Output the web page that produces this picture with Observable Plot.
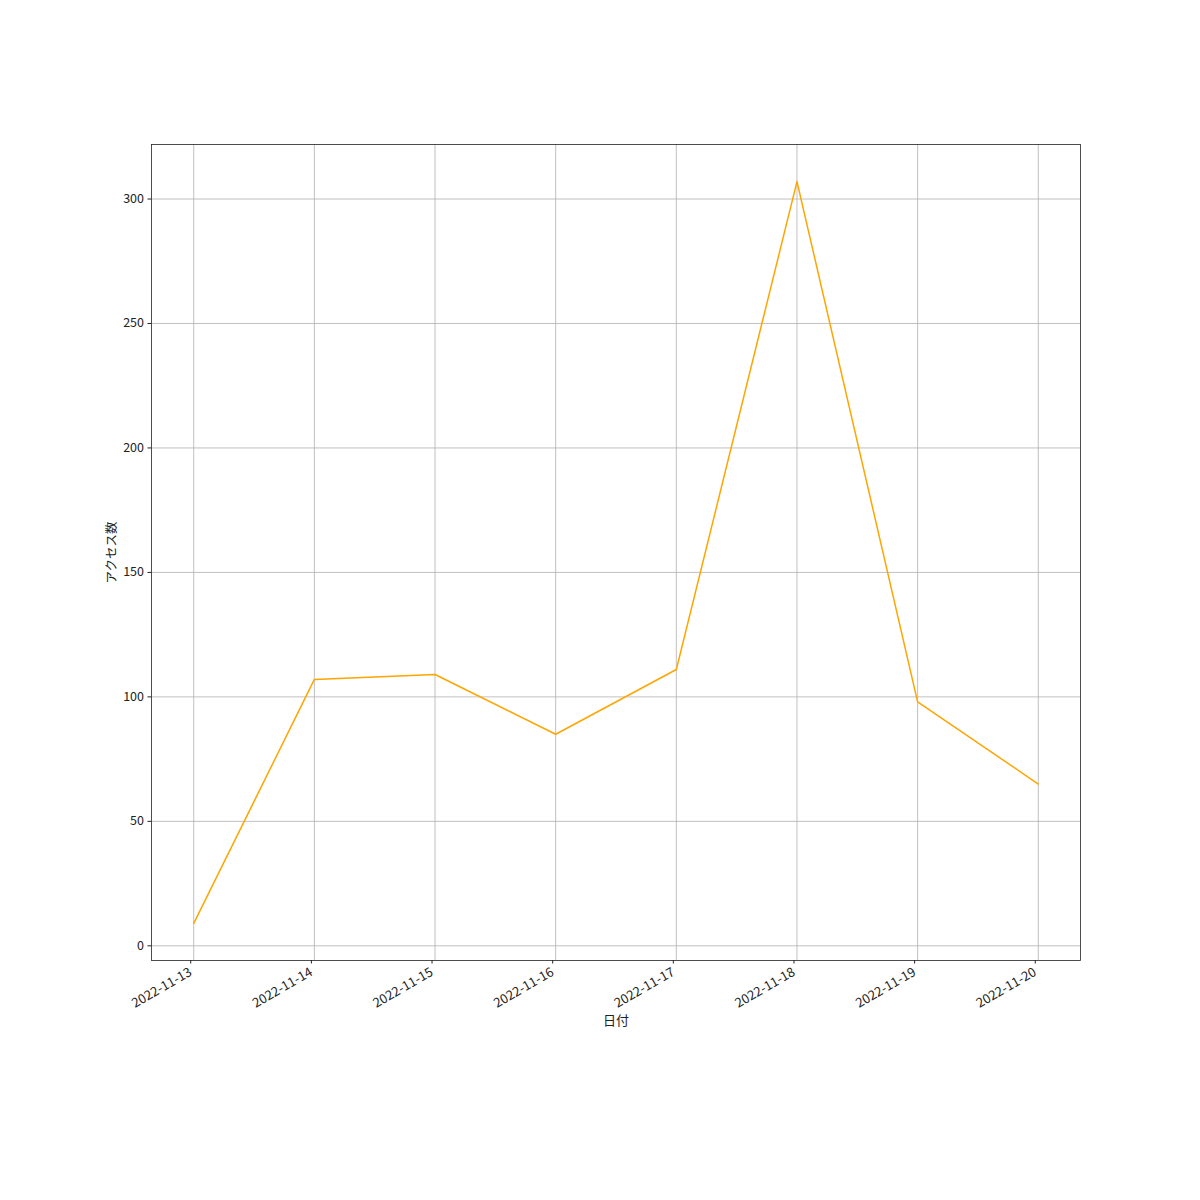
<!DOCTYPE html>
<html>
<head>
<meta charset="utf-8">
<script src="https://cdn.jsdelivr.net/npm/d3@7"></script>
<script src="https://cdn.jsdelivr.net/npm/@observablehq/plot@0.6"></script>
<style>
  html, body { margin: 0; padding: 0; background: #fff; }
  #chart svg { display: block; }
</style>
</head>
<body>
<div id="chart"></div>
<script>
const dates = ["2022-11-13", "2022-11-14", "2022-11-15", "2022-11-16", "2022-11-17", "2022-11-18", "2022-11-19", "2022-11-20"];
const access = [9, 107, 109, 85, 111, 307, 98, 65];
const yTicks = [0, 50, 100, 150, 200, 250, 300];
const xLabel = "日付";
const yLabel = "アクセス数";

const data = dates.map((d, i) => ({date: new Date(d + "T00:00:00Z"), value: access[i]}));
const tickDates = dates.map(d => new Date(d + "T00:00:00Z"));

const t0 = tickDates[0].getTime(), t1 = tickDates[tickDates.length - 1].getTime();
const xPad = (t1 - t0) * 0.05;
const vMin = d3.min(access), vMax = d3.max(access);
const yPad = (vMax - vMin) * 0.05;

const chart = Plot.plot({
  width: 1200,
  height: 1200,
  marginLeft: 151,
  marginRight: 120,
  marginTop: 144,
  marginBottom: 240,
  style: {fontFamily: "'Noto Sans CJK JP', 'Noto Sans', sans-serif", fontSize: "12px", color: "#222", background: "#fff"},
  x: {type: "utc", domain: [new Date(t0 - xPad), new Date(t1 + xPad)]},
  y: {domain: [vMin - yPad, vMax + yPad]},
  marks: [
    Plot.gridX(tickDates, {stroke: "#b0b0b0", strokeOpacity: 1, strokeWidth: 0.8}),
    Plot.gridY(yTicks, {stroke: "#b0b0b0", strokeOpacity: 1, strokeWidth: 0.8}),
    Plot.line(data, {x: "date", y: "value", stroke: "#ffa500", strokeWidth: 1.5}),
    Plot.frame({stroke: "#222", strokeWidth: 0.8}),
    Plot.axisY(yTicks, {tickSize: 3.5, tickPadding: 4, fontSize: 12.5, label: yLabel, labelAnchor: "center", labelArrow: "none", labelOffset: 44}),
    Plot.axisX(tickDates, {tickSize: 3.5, tickPadding: 7, dx: -3, fontSize: 13, tickRotate: -30, tickFormat: d3.utcFormat("%Y-%m-%d"), label: xLabel, labelAnchor: "center", labelArrow: "none", labelOffset: 64})
  ]
});
document.getElementById("chart").appendChild(chart);
</script>
</body>
</html>
